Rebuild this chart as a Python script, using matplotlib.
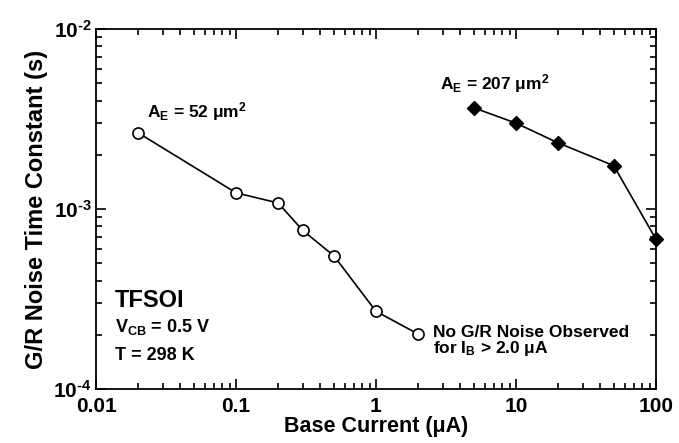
import matplotlib.pyplot as plt
from matplotlib.ticker import FixedLocator, FixedFormatter, LogLocator, NullFormatter

plt.rcParams["font.family"] = ["Liberation Sans", "DejaVu Sans"]
plt.rcParams["font.weight"] = "bold"
plt.rcParams["mathtext.fontset"] = "custom"
plt.rcParams["mathtext.rm"] = "Liberation Sans:bold"
plt.rcParams["mathtext.it"] = "Liberation Sans:bold"
plt.rcParams["mathtext.bf"] = "Liberation Sans:bold"
plt.rcParams["mathtext.default"] = "rm"

# A_E = 52 um^2 (open circles)
ib_small = [0.02, 0.1, 0.2, 0.3, 0.5, 1.0, 2.0]
tau_small = [2.65e-3, 1.23e-3, 1.08e-3, 7.6e-4, 5.5e-4, 2.7e-4, 2.02e-4]

# A_E = 207 um^2 (filled diamonds)
ib_large = [5, 10, 20, 50, 100]
tau_large = [3.65e-3, 3.0e-3, 2.33e-3, 1.74e-3, 6.8e-4]

xticks = [0.01, 0.1, 1, 10, 100]
xtick_labels = ["0.01", "0.1", "1", "10", "100"]
yticks = [1e-4, 1e-3, 1e-2]
ytick_labels = [r"$10^{\text{-}4}$", r"$10^{\text{-}3}$", r"$10^{\text{-}2}$"]

fig = plt.figure(figsize=(6.79, 4.43), dpi=100)
ax = fig.add_axes([0.1414, 0.122, 0.8246, 0.8125])

ax.plot(ib_small, tau_small, color="black", lw=1.2, marker="o", ms=8,
        mfc="white", mec="black", mew=1.2)
ax.plot(ib_large, tau_large, color="black", lw=1.2, marker="D", ms=7.5,
        mfc="black", mec="black", clip_on=False, zorder=5)

ax.set_xscale("log")
ax.set_yscale("log")
ax.set_xlim(0.01, 100)
ax.set_ylim(1e-4, 1e-2)

ax.xaxis.set_major_locator(FixedLocator(xticks))
ax.xaxis.set_major_formatter(FixedFormatter(xtick_labels))
ax.yaxis.set_major_locator(FixedLocator(yticks))
ax.yaxis.set_major_formatter(FixedFormatter(ytick_labels))
for a in (ax.xaxis, ax.yaxis):
    a.set_minor_locator(LogLocator(base=10, subs=range(2, 10)))
    a.set_minor_formatter(NullFormatter())

ax.tick_params(which="both", direction="in", top=True, right=True, width=1.2)
ax.tick_params(which="major", length=7, labelsize=15)
ax.tick_params(axis="x", which="major", pad=6)
ax.tick_params(axis="y", which="major", pad=3)
ax.tick_params(which="minor", length=4)
for s in ax.spines.values():
    s.set_linewidth(1.3)

ax.set_xlabel("Base Current (μA)", fontsize=15.5, fontweight="bold", labelpad=0)
ax.set_ylabel("G/R Noise Time Constant (s)", fontsize=17, fontweight="bold", labelpad=4)

ax.text(0.0231, 3.24e-3, r"A$_{E}$ = 52 μm$^{2}$", fontsize=12.5)
ax.text(2.87, 4.64e-3, r"A$_{E}$ = 207 μm$^{2}$", fontsize=12.5)
ax.text(0.0137, 2.85e-4, "TFSOI", fontsize=17)
ax.text(0.0137, 2.07e-4, r"V$_{CB}$ = 0.5 V", fontsize=13)
ax.text(0.0137, 1.45e-4, "T = 298 K", fontsize=13)
ax.text(2.55, 1.945e-4, "No G/R Noise Observed", fontsize=12.5)
ax.text(2.55, 1.585e-4, r"for I$_{B}$ > 2.0 μA", fontsize=12.5)

fig.savefig("out.png", dpi=100)
